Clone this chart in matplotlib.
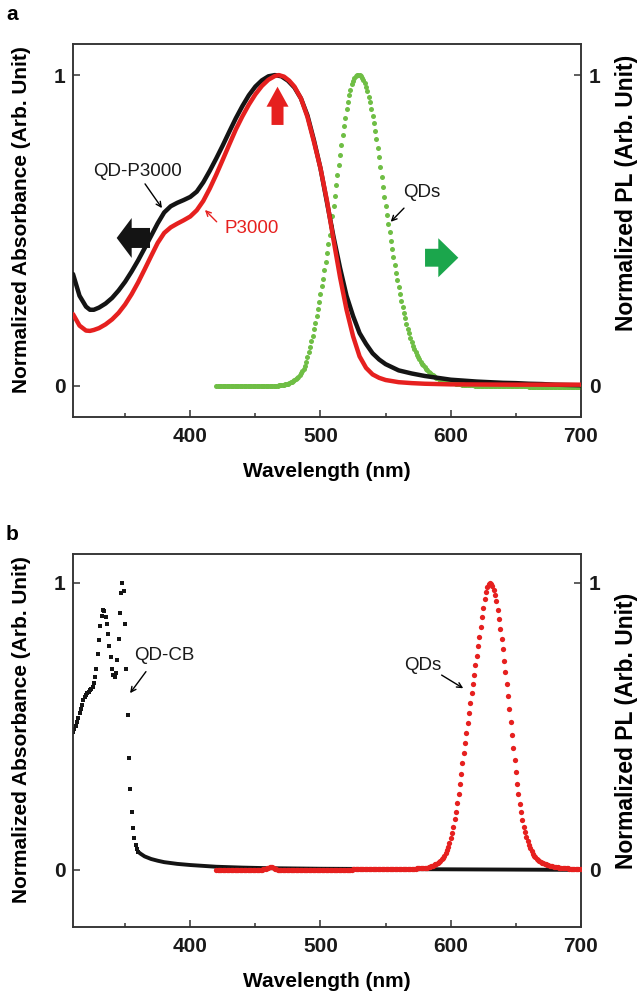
import numpy as np
import matplotlib
matplotlib.use('Agg')
import matplotlib.pyplot as plt
from matplotlib.patches import FancyArrow

plt.rcParams['font.family'] = ['Liberation Sans', 'DejaVu Sans']
plt.rcParams['font.weight'] = 'bold'
plt.rcParams['axes.labelweight'] = 'bold'
plt.rcParams['path.simplify'] = False

# ---------------- Panel a : absorbance (black = QD-P3000, red = P3000) -----------
qdp_wl = [310, 315, 320, 323, 326, 330, 335, 340, 345, 350, 355, 360, 365, 370, 375,
          380, 385, 390, 395, 400, 405, 410, 415, 420, 425, 430, 435, 440, 445, 450,
          455, 460, 465, 470, 475, 480, 485, 490, 495, 500, 505, 510, 515, 520, 525,
          530, 535, 540, 545, 550, 560, 570, 580, 590, 600, 610, 620, 630, 640, 650,
          660, 670, 680, 690, 700]
qdp_abs = [0.360, 0.290, 0.255, 0.245, 0.245, 0.252, 0.265, 0.283, 0.307, 0.335, 0.368,
           0.404, 0.443, 0.483, 0.523, 0.558, 0.578, 0.589, 0.598, 0.608, 0.625, 0.655,
           0.692, 0.732, 0.774, 0.818, 0.861, 0.900, 0.935, 0.963, 0.983, 0.996, 1.000,
           0.996, 0.982, 0.960, 0.925, 0.870, 0.790, 0.700, 0.590, 0.480, 0.380, 0.290,
           0.225, 0.170, 0.135, 0.105, 0.085, 0.070, 0.050, 0.040, 0.032, 0.026, 0.020,
           0.017, 0.014, 0.012, 0.010, 0.009, 0.007, 0.006, 0.004, 0.003, 0.002]

p3000_wl = [310, 315, 320, 323, 326, 330, 335, 340, 345, 350, 355, 360, 365, 370, 375,
            380, 385, 390, 395, 400, 405, 410, 415, 420, 425, 430, 435, 440, 445, 450,
            455, 460, 465, 468, 472, 476, 480, 485, 490, 495, 500, 505, 510, 515, 520,
            525, 530, 535, 540, 545, 550, 560, 570, 580, 600, 650, 700]
p3000_abs = [0.231, 0.194, 0.178, 0.177, 0.180, 0.186, 0.198, 0.214, 0.235, 0.262, 0.295,
             0.333, 0.375, 0.418, 0.460, 0.492, 0.510, 0.522, 0.533, 0.545, 0.565, 0.595,
             0.635, 0.680, 0.728, 0.777, 0.825, 0.867, 0.905, 0.938, 0.965, 0.985, 0.997,
             1.000, 0.995, 0.982, 0.963, 0.925, 0.865, 0.785, 0.700, 0.595, 0.470, 0.350,
             0.245, 0.160, 0.095, 0.058, 0.037, 0.026, 0.019, 0.012, 0.009, 0.007, 0.005,
             0.004, 0.004]

# Panel a : PL of green QDs, one value per nm from 420 to 700 nm
qd_green_start = 420
qd_green_pl = [
    0, 0, 0, 0, 0, 0, 0, 0, 0, 0,                                         # 420
    0, 0, 0, 0, 0, 0, 0, 0, 0, 0,                                         # 430
    0, 0, 0, 0, 0, 0, 0, 0, 0, 0,                                         # 440
    0, 0, 0, 0, 0, 0, 0, 0, 0, 0,                                         # 450
    0, 0, 0, 0, 0, 0, 0.001, 0.001, 0.002, 0.002,                         # 460
    0.003, 0.003, 0.004, 0.005, 0.006, 0.007, 0.009, 0.011, 0.013, 0.016, # 470
    0.018, 0.021, 0.025, 0.029, 0.034, 0.040, 0.047, 0.055, 0.065, 0.077, # 480
    0.092, 0.108, 0.125, 0.143, 0.162, 0.182, 0.203, 0.225, 0.248, 0.271, # 490
    0.295, 0.320, 0.345, 0.372, 0.400, 0.428, 0.456, 0.485, 0.515, 0.547, # 500
    0.580, 0.612, 0.645, 0.678, 0.710, 0.743, 0.775, 0.806, 0.835, 0.863, # 510
    0.890, 0.913, 0.935, 0.953, 0.970, 0.982, 0.991, 0.996, 0.999, 1.000, # 520
    1.000, 0.997, 0.992, 0.984, 0.974, 0.962, 0.948, 0.931, 0.912, 0.890, # 530
    0.867, 0.845, 0.820, 0.793, 0.765, 0.735, 0.703, 0.672, 0.640, 0.608, # 540
    0.578, 0.550, 0.522, 0.494, 0.467, 0.440, 0.414, 0.389, 0.364, 0.340, # 550
    0.317, 0.295, 0.274, 0.254, 0.235, 0.217, 0.200, 0.184, 0.169, 0.155, # 560
    0.142, 0.130, 0.119, 0.109, 0.100, 0.092, 0.085, 0.078, 0.072, 0.066, # 570
    0.060, 0.055, 0.050, 0.046, 0.042, 0.038, 0.035, 0.032, 0.029, 0.027, # 580
    0.024, 0.022, 0.020, 0.018, 0.017, 0.015, 0.014, 0.013, 0.012, 0.011, # 590
    0.010, 0.009, 0.008, 0.008, 0.007, 0.006, 0.006, 0.005, 0.005, 0.004, # 600
    0.004, 0.004, 0.003, 0.003, 0.003, 0.002, 0.002, 0.002, 0.002, 0.001, # 610
    0.001, 0.001, 0.001, 0.001, 0.001, 0, 0, 0, 0, 0,                     # 620
    0, 0, 0, 0, 0, 0, 0, 0, 0, 0,                                         # 630
    0, 0, 0, 0, 0, 0, 0, 0, 0, 0,                                         # 640
    0, 0, 0, 0, 0, -0.001, -0.001, -0.001, -0.001, -0.001,                # 650
    -0.002, -0.002, -0.002, -0.002, -0.002, -0.002, -0.002, -0.002, -0.002, -0.002,  # 660
    -0.002, -0.002, -0.002, -0.002, -0.003, -0.003, -0.003, -0.003, -0.003, -0.003,  # 670
    -0.003, -0.003, -0.003, -0.003, -0.003, -0.003, -0.003, -0.003, -0.003, -0.003,  # 680
    -0.004, -0.004, -0.004, -0.004, -0.004, -0.004, -0.004, -0.004, -0.004, -0.004,  # 690
    -0.004]                                                               # 700

# ---------------- Panel b : QD-CB absorbance and red QD PL ----------------------
cb_start = 310
cb_abs_points = [
    0.480, 0.490, 0.500, 0.515, 0.530, 0.545, 0.560, 0.575, 0.590, 0.600,  # 310
    0.610, 0.615, 0.620, 0.625, 0.630, 0.635, 0.650, 0.670, 0.700, 0.750,  # 320
    0.800, 0.850, 0.885, 0.905, 0.900, 0.880, 0.855, 0.820, 0.780, 0.740,  # 330
    0.700, 0.680, 0.670, 0.685, 0.730, 0.805, 0.895, 0.965, 1.000, 0.970,  # 340
    0.855, 0.700, 0.540, 0.390, 0.280, 0.200, 0.145, 0.110, 0.087, 0.072,  # 350
    0.062]                                                                # 360
cb_tail_wl = [360, 362, 365, 370, 375, 380, 390, 400, 410, 420, 440, 460, 480, 500,
              550, 600, 650, 700]
cb_tail_abs = [0.062, 0.055, 0.046, 0.037, 0.031, 0.026, 0.020, 0.016, 0.013, 0.010,
               0.007, 0.005, 0.004, 0.003, 0.002, 0.001, 0.000, -0.001]

qd_red_start = 420
qd_red_pl = [
    0, 0, 0, 0, 0, 0, 0, 0, 0, 0,                                         # 420
    0, 0, 0, 0, 0, 0, 0, 0, 0, 0,                                         # 430
    0, 0, 0, 0, 0, 0, 0, 0, 0, 0,                                         # 440
    0, 0, 0, 0, 0, 0, 0.001, 0.002, 0.003, 0.004,                         # 450
    0.006, 0.008, 0.009, 0.008, 0.006, 0.003, 0.001, 0, -0.001, -0.001,   # 460
    -0.001, -0.001, -0.001, -0.001, -0.001, 0, 0, 0, 0, 0,                # 470
    0, 0, 0, 0, 0, 0, 0, 0, 0, 0,                                         # 480
    0, 0, 0, 0, 0, 0, 0, 0, 0, 0,                                         # 490
    0, 0, 0, 0, 0, 0, 0, 0, 0, 0,                                         # 500
    0, 0, 0, 0, 0, 0, 0, 0, 0, 0,                                         # 510
    0, 0, 0, 0, 0, 0.001, 0.001, 0.001, 0.001, 0.001,                     # 520
    0.001, 0.001, 0.001, 0.001, 0.002, 0.002, 0.002, 0.002, 0.002, 0.002, # 530
    0.002, 0.002, 0.002, 0.002, 0.002, 0.003, 0.003, 0.003, 0.003, 0.003, # 540
    0.003, 0.003, 0.003, 0.003, 0.003, 0.003, 0.003, 0.003, 0.003, 0.003, # 550
    0.003, 0.003, 0.003, 0.003, 0.003, 0.003, 0.003, 0.003, 0.003, 0.003, # 560
    0.003, 0.003, 0.003, 0.003, 0.004, 0.004, 0.004, 0.004, 0.005, 0.005, # 570
    0.005, 0.006, 0.007, 0.008, 0.009, 0.011, 0.013, 0.015, 0.018, 0.021, # 580
    0.024, 0.027, 0.031, 0.036, 0.042, 0.049, 0.058, 0.068, 0.080, 0.094, # 590
    0.110, 0.128, 0.150, 0.175, 0.202, 0.232, 0.264, 0.298, 0.334, 0.372, # 600
    0.405, 0.440, 0.475, 0.510, 0.545, 0.580, 0.614, 0.647, 0.680, 0.712, # 610
    0.745, 0.778, 0.810, 0.845, 0.880, 0.912, 0.942, 0.967, 0.985, 0.996, # 620
    1.000, 0.996, 0.988, 0.975, 0.958, 0.935, 0.905, 0.873, 0.840, 0.805, # 630
    0.768, 0.728, 0.688, 0.647, 0.605, 0.560, 0.515, 0.470, 0.425, 0.382, # 640
    0.340, 0.300, 0.263, 0.230, 0.200, 0.173, 0.150, 0.130, 0.113, 0.098, # 650
    0.085, 0.074, 0.064, 0.056, 0.049, 0.043, 0.038, 0.034, 0.030, 0.027, # 660
    0.024, 0.022, 0.020, 0.018, 0.016, 0.015, 0.013, 0.012, 0.011, 0.010, # 670
    0.009, 0.008, 0.008, 0.007, 0.006, 0.006, 0.005, 0.005, 0.004, 0.004, # 680
    0.004, 0.003, 0.003, 0.003, 0.002, 0.002, 0.002, 0.002, 0.001, 0.001, # 690
    0.001]                                                                # 700

x_major = [400, 500, 600, 700]
x_minor = [350, 450, 550, 650]
y_ticks = [0, 1]

BLACK = '#141414'
RED = '#e6201f'
GREEN_PL = '#6fbe45'
GREEN_ARROW = '#1ba64c'
SPINE = '#333333'

fig = plt.figure(figsize=(6.41, 9.96), dpi=100)
L, W, H = 73 / 641, 508 / 641, 373 / 996
ax_a = fig.add_axes([L, 1 - 417 / 996, W, H])
ax_b = fig.add_axes([L, 1 - 927 / 996, W, H])
ax_a2 = ax_a.twinx()
ax_b2 = ax_b.twinx()


def style(ax, ax2, ylim, right_label_y):
    for a in (ax, ax2):
        a.set_xlim(310, 700)
        a.set_ylim(*ylim)
        for s in a.spines.values():
            s.set_linewidth(1.1)
            s.set_color(SPINE)
    ax.set_xticks(x_major)
    ax.set_xticks(x_minor, minor=True)
    ax.tick_params(axis='x', which='major', direction='in', length=5, width=1.1,
                   pad=7, labelsize=15, colors=SPINE, labelcolor='#1a1a1a')
    ax.tick_params(axis='x', which='minor', direction='in', length=3, width=1.1,
                   colors=SPINE)
    ax.set_yticks(y_ticks)
    ax.tick_params(axis='y', direction='in', length=5, width=1.1, pad=5.5,
                   labelsize=15, colors=SPINE, labelcolor='#1a1a1a')
    ax2.set_yticks(y_ticks)
    ax2.tick_params(axis='y', direction='in', length=5, width=1.1, pad=5.5,
                    labelsize=15, colors=SPINE, labelcolor='#1a1a1a')
    ax.set_xlabel('Wavelength (nm)', fontsize=15, fontweight='bold', va='center')
    ax.xaxis.set_label_coords(0.5, -0.147)
    ax.set_ylabel('Normalized Absorbance (Arb. Unit)', fontsize=15,
                  fontweight='bold', va='center')
    ax.yaxis.set_label_coords(-0.1004, 0.53)
    ax2.set_ylabel('Normalized PL (Arb. Unit)', fontsize=16.5, fontweight='bold',
                   va='center', rotation=90)
    ax2.yaxis.set_label_coords(1.0886, right_label_y)


style(ax_a, ax_a2, (-0.1, 1.1), 0.6)
style(ax_b, ax_b2, (-0.2, 1.1), 0.525)

# ---- panel a data (green underneath, then black, red on top)
green_wl = np.arange(qd_green_start, qd_green_start + len(qd_green_pl))
ax_a2.scatter(green_wl, qd_green_pl, s=3.6 ** 2, marker='o', linewidths=0,
              color=GREEN_PL, zorder=2)
ax_a2.plot(qdp_wl, qdp_abs, color=BLACK, lw=3.2, solid_capstyle='round', zorder=3)
ax_a2.plot(p3000_wl, p3000_abs, color=RED, lw=3.2, solid_capstyle='round', zorder=4)

# ---- panel b data (black underneath, red on top)
cb_wl = np.arange(cb_start, cb_start + len(cb_abs_points))
ax_b2.plot(cb_tail_wl, cb_tail_abs, color=BLACK, lw=2.8, solid_capstyle='round',
           zorder=2)
ax_b2.scatter(cb_wl, cb_abs_points, s=3.5 ** 2, marker='s', linewidths=0,
              color=BLACK, zorder=2)
red_wl = np.arange(qd_red_start, qd_red_start + len(qd_red_pl))
ax_b2.scatter(red_wl, qd_red_pl, s=3.8 ** 2, marker='o', linewidths=0,
              color=RED, zorder=10)

# ---- annotations panel a
arrow_kw = dict(arrowstyle='->', color='black', lw=1.0, shrinkA=0, shrinkB=0,
                mutation_scale=9)
ax_a2.text(359.5, 0.691, 'QD-P3000', fontsize=13.5, fontweight='normal',
           ha='center', va='center', color='#1a1a1a')
ax_a2.annotate('', xy=(378.3, 0.572), xytext=(365.3, 0.650), arrowprops=arrow_kw)
ax_a2.text(447.4, 0.505, 'P3000', fontsize=13.5, fontweight='normal',
           ha='center', va='center', color=RED)
ax_a2.annotate('', xy=(411.3, 0.566), xytext=(420.3, 0.528),
               arrowprops=dict(arrow_kw, color=RED))
ax_a2.text(577.7, 0.622, 'QDs', fontsize=13.5, fontweight='normal',
           ha='center', va='center', color='#1a1a1a')
ax_a2.annotate('', xy=(553.9, 0.528), xytext=(564.1, 0.572), arrowprops=arrow_kw)

# fat arrows (axes-fraction geometry)
ax_a2.add_patch(FancyArrow(0.1516, 0.48, -0.0656, 0, width=0.0536, head_width=0.107,
                           head_length=0.0295, length_includes_head=True,
                           transform=ax_a2.transAxes, color=BLACK, lw=0, zorder=5))
ax_a2.add_patch(FancyArrow(0.4026, 0.783, 0, 0.1025, width=0.0236, head_width=0.0433,
                           head_length=0.0536, length_includes_head=True,
                           transform=ax_a2.transAxes, color=RED, lw=0, zorder=5))
ax_a2.add_patch(FancyArrow(0.693, 0.427, 0.0655, 0, width=0.048, head_width=0.1046,
                           head_length=0.0394, length_includes_head=True,
                           transform=ax_a2.transAxes, color=GREEN_ARROW, lw=0, zorder=5))

# ---- annotations panel b
ax_b2.text(380.4, 0.746, 'QD-CB', fontsize=13.5, fontweight='normal',
           ha='center', va='center', color='#1a1a1a')
ax_b2.annotate('', xy=(353.8, 0.615), xytext=(366.0, 0.690), arrowprops=arrow_kw)
ax_b2.text(578.7, 0.713, 'QDs', fontsize=13.5, fontweight='normal',
           ha='center', va='center', color='#1a1a1a')
ax_b2.annotate('', xy=(609.6, 0.632), xytext=(593.0, 0.678), arrowprops=arrow_kw)

fig.text(12 / 641, 1 - 14 / 996, 'a', fontsize=15, fontweight='bold',
         ha='center', va='center')
fig.text(12 / 641, 1 - 535 / 996, 'b', fontsize=15, fontweight='bold',
         ha='center', va='center')

fig.savefig('out.png', dpi=100)
